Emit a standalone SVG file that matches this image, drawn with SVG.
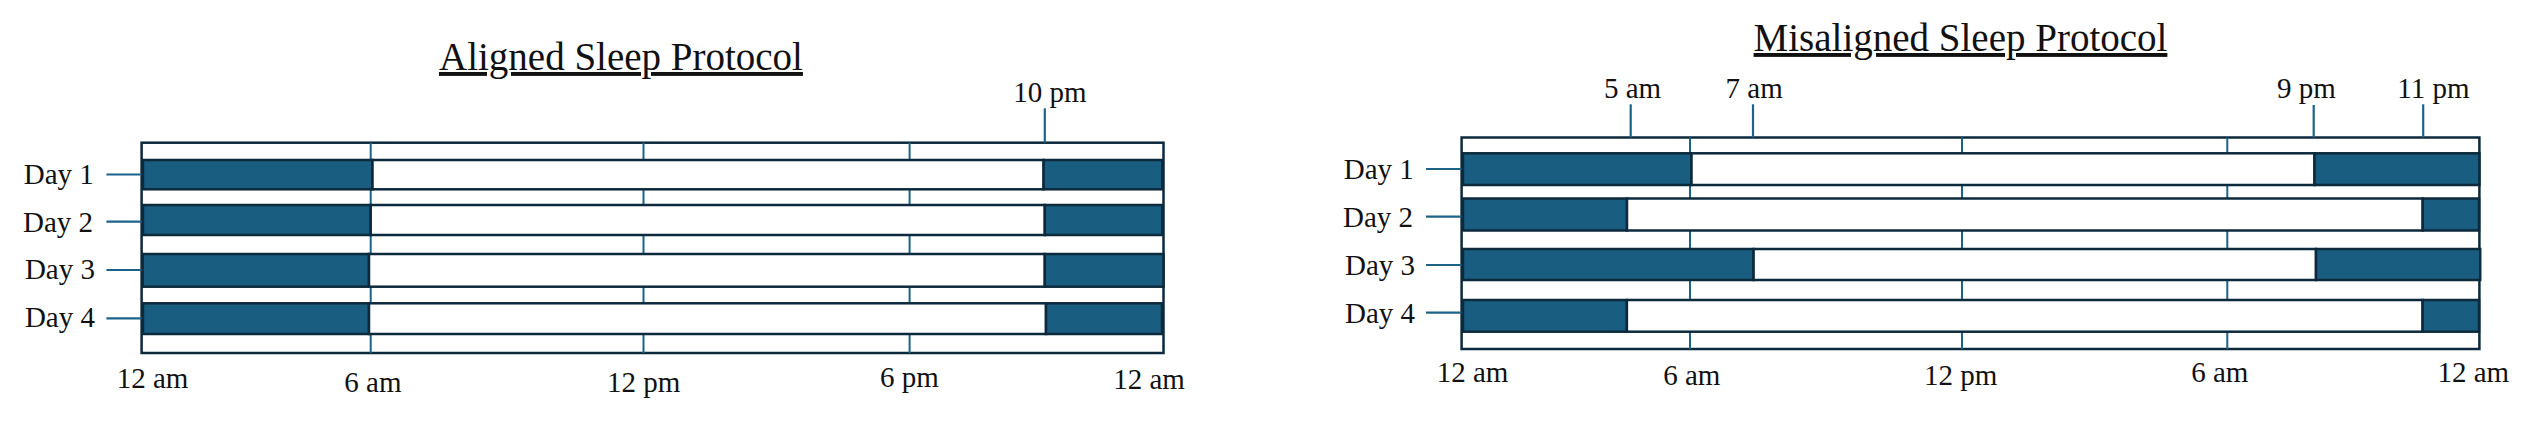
<svg xmlns="http://www.w3.org/2000/svg" width="2530" height="421" viewBox="0 0 2530 421">
<style>
  .bg { fill: #ffffff; }
  .frame { fill: #ffffff; stroke: #0c2a3c; stroke-width: 2.5; }
  .sleep { fill: #195e80; stroke: #0c2a3c; stroke-width: 2.5; }
  .wake { fill: #ffffff; stroke: #0c2a3c; stroke-width: 2.5; }
  .grid { stroke: #1b6388; stroke-width: 2; fill: none; }
  .tick { stroke: #1b6388; stroke-width: 2.2; fill: none; }
  text { font-family: "Liberation Serif", "Times New Roman", serif; font-size: 29px; fill: #111111; }
  .title { font-size: 39px; text-decoration: underline; }
</style>
<rect class="bg" x="0" y="0" width="2530" height="421"/>

<!-- ===== Aligned Sleep Protocol ===== -->
<g id="aligned">
  <text id="aligned-title" class="title" x="439" y="70">Aligned Sleep Protocol</text>
  <rect id="aligned-frame" class="frame" x="141.6" y="142.7" width="1021.9" height="210.3"/>
  <g id="aligned-grid">
    <line class="grid" x1="370.7" y1="142.7" x2="370.7" y2="353"/>
    <line class="grid" x1="643.5" y1="142.7" x2="643.5" y2="353"/>
    <line class="grid" x1="909.6" y1="142.7" x2="909.6" y2="353"/>
  </g>
  <g id="aligned-day1">
    <rect class="sleep" x="143" y="160" width="229.5" height="29.3"/>
    <rect class="wake" x="372.5" y="160" width="671.1" height="29.3"/>
    <rect class="sleep" x="1043.6" y="160" width="118.7" height="29.3"/>
    <text x="23.7" y="184">Day 1</text>
  </g>
  <g id="aligned-day2">
    <rect class="sleep" x="143" y="205" width="227.7" height="30"/>
    <rect class="wake" x="370.7" y="205" width="674.1" height="30"/>
    <rect class="sleep" x="1044.8" y="205" width="117.5" height="30"/>
    <text x="23" y="232">Day 2</text>
  </g>
  <g id="aligned-day3">
    <rect class="sleep" x="142.7" y="254" width="226.3" height="32.7"/>
    <rect class="wake" x="369" y="254" width="675.8" height="32.7"/>
    <rect class="sleep" x="1044.8" y="254" width="118.7" height="32.7"/>
    <text x="24.9" y="279.3">Day 3</text>
  </g>
  <g id="aligned-day4">
    <rect class="sleep" x="143" y="303.3" width="226" height="30.7"/>
    <rect class="wake" x="369" y="303.3" width="677" height="30.7"/>
    <rect class="sleep" x="1046" y="303.3" width="116" height="30.7"/>
    <text x="24.9" y="327.3">Day 4</text>
  </g>
  <g id="aligned-axis">
    <text x="116.7" y="388.3">12 am</text>
    <text x="344.3" y="391.7">6 am</text>
    <text x="607" y="391.7">12 pm</text>
    <text x="880" y="387.3">6 pm</text>
    <text x="1113.2" y="389.3">12 am</text>
    <text x="1013.2" y="101.7">10 pm</text>
  </g>
</g>

<!-- ===== Misaligned Sleep Protocol ===== -->
<g id="misaligned">
  <text id="misaligned-title" class="title" x="1753.6" y="51">Misaligned Sleep Protocol</text>
  <rect id="misaligned-frame" class="frame" x="1461.6" y="137.5" width="1017.8" height="211.5"/>
  <g id="misaligned-grid">
    <line class="grid" x1="1690" y1="137.5" x2="1690" y2="349"/>
    <line class="grid" x1="1962" y1="137.5" x2="1962" y2="349"/>
    <line class="grid" x1="2227.3" y1="137.5" x2="2227.3" y2="349"/>
  </g>
  <g id="misaligned-day1">
    <rect class="sleep" x="1463" y="153.3" width="228.5" height="31.7"/>
    <rect class="wake" x="1691.5" y="153.3" width="623" height="31.7"/>
    <rect class="sleep" x="2314.5" y="153.3" width="164.9" height="31.7"/>
    <text x="1343.7" y="179.3">Day 1</text>
  </g>
  <g id="misaligned-day2">
    <rect class="sleep" x="1463" y="198.5" width="164" height="32"/>
    <rect class="wake" x="1627" y="198.5" width="795.7" height="32"/>
    <rect class="sleep" x="2422.7" y="198.5" width="56.3" height="32"/>
    <text x="1343" y="227.3">Day 2</text>
  </g>
  <g id="misaligned-day3">
    <rect class="sleep" x="1463" y="249" width="290.6" height="31"/>
    <rect class="wake" x="1753.6" y="249" width="562.4" height="31"/>
    <rect class="sleep" x="2316" y="249" width="164.2" height="31"/>
    <text x="1345" y="275">Day 3</text>
  </g>
  <g id="misaligned-day4">
    <rect class="sleep" x="1463" y="300" width="163.9" height="31.7"/>
    <rect class="wake" x="1626.9" y="300" width="795.7" height="31.7"/>
    <rect class="sleep" x="2422.6" y="300" width="56.4" height="31.7"/>
    <text x="1345" y="323.3">Day 4</text>
  </g>
  <g id="misaligned-axis">
    <text x="1436.7" y="381.7">12 am</text>
    <text x="1663.2" y="385">6 am</text>
    <text x="1923.9" y="385">12 pm</text>
    <text x="2191.2" y="381.7">6 am</text>
    <text x="2437.4" y="381.7">12 am</text>
    <text x="1604" y="98.3">5 am</text>
    <text x="1725.6" y="98.3">7 am</text>
    <text x="2277.1" y="98.3">9 pm</text>
    <text x="2397.3" y="98.3">11 pm</text>
  </g>
</g>

<!-- ===== Connectors (label ticks) ===== -->
<g id="connectors">
  <line class="tick" x1="106.4" y1="174.5" x2="141.6" y2="174.5"/>
  <line class="tick" x1="106.4" y1="221.7" x2="141.6" y2="221.7"/>
  <line class="tick" x1="106.4" y1="270" x2="141.6" y2="270"/>
  <line class="tick" x1="106.4" y1="318.3" x2="141.6" y2="318.3"/>
  <line class="tick" x1="1044.8" y1="108.3" x2="1044.8" y2="142.7"/>
  <line class="tick" x1="1426" y1="169" x2="1461.6" y2="169"/>
  <line class="tick" x1="1426" y1="216.7" x2="1461.6" y2="216.7"/>
  <line class="tick" x1="1426" y1="265" x2="1461.6" y2="265"/>
  <line class="tick" x1="1426" y1="312.7" x2="1461.6" y2="312.7"/>
  <line class="tick" x1="1630.7" y1="104.3" x2="1630.7" y2="137.5"/>
  <line class="tick" x1="1753" y1="104.3" x2="1753" y2="137.5"/>
  <line class="tick" x1="2313.7" y1="105" x2="2313.7" y2="137.5"/>
  <line class="tick" x1="2423.2" y1="104.3" x2="2423.2" y2="137.5"/>
</g>
</svg>
